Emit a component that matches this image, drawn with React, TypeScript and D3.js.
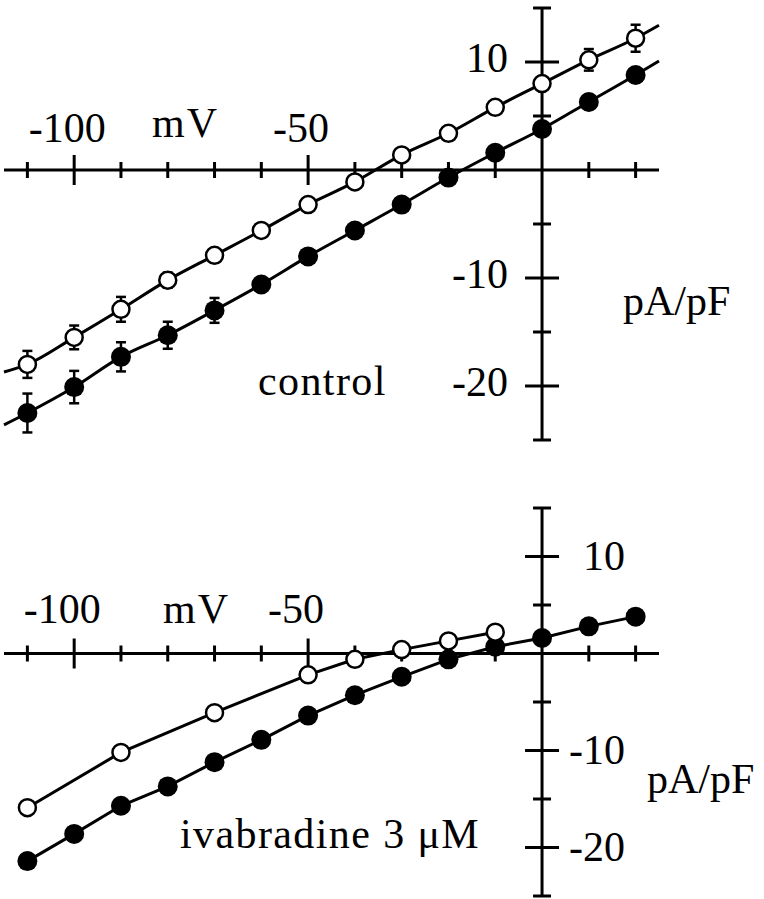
import React, { useRef, useEffect } from "react";
import * as d3 from "d3";

// membrane potential steps (mV)
const voltages = [-110, -100, -90, -80, -70, -60, -50, -40, -30, -20, -10, 0, 10, 20];

// control panel (pA/pF)
const controlOpen = [-18.0, -15.5, -12.9, -10.2, -7.9, -5.6, -3.2, -1.1, 1.4, 3.4, 5.8, 8.0, 10.2, 12.2];
const controlOpenErr = [1.25, 1.1, 1.15, 0.7, 0.5, 0.5, 0.5, 0.5, 0.5, 0.5, 0.5, 0.6, 1.0, 1.25];
const controlFilled = [-22.5, -20.1, -17.3, -15.3, -13.0, -10.6, -8.0, -5.6, -3.2, -0.7, 1.6, 3.8, 6.3, 8.8];
const controlFilledErr = [1.8, 1.5, 1.35, 1.25, 1.15, 0.6, 0.5, 0.5, 0.5, 0.5, 0.5, 0.5, 0.5, 0.5];
// ends of the fitted curves (mV, pA/pF)
const controlOpenFitEnds = [[-115, -18.7], [25, 13.4]];
const controlFilledFitEnds = [[-115, -23.6], [25, 10.1]];

// ivabradine panel
const ivaOpenVoltages = [-110, -90, -70, -50, -40, -30, -20, -10];
const ivaOpen = [-15.9, -10.2, -6.1, -2.2, -0.6, 0.4, 1.3, 2.2];
const ivaFilled = [-21.4, -18.6, -15.7, -13.7, -11.2, -8.9, -6.4, -4.3, -2.4, -0.6, 0.7, 1.6, 2.8, 3.8];

const xTicks = [-110, -100, -90, -80, -70, -60, -50, -40, -30, -20, -10, 10, 20];
const xMajor = [-100, -50];
const xLabels = ["-100", "-50"];
const yTicks = [-25, -20, -15, -10, -5, 5, 10, 15];
const yLabels = [10, -10, -20];

const FONT = "'Liberation Serif', 'Times New Roman', serif";

const App = () => {
  const svgRef = useRef(null);

  useEffect(() => {
    const svg = d3.select(svgRef.current);
    svg.selectAll("*").remove();

    const x = d3.scaleLinear().domain([-115, 25]).range([4, 659]);
    const yTop = d3.scaleLinear().domain([-25, 15]).range([440, 8]);
    const yBot = d3.scaleLinear().domain([-25, 15]).range([896, 508]);

    const drawAxes = (g, y, opts) => {
      const x0 = x(0);
      const y0 = y(0);
      // x axis
      g.append("line")
        .attr("x1", x(-115)).attr("x2", x(25))
        .attr("y1", y0).attr("y2", y0)
        .attr("stroke", "#000").attr("stroke-width", 3);
      g.selectAll(".xt")
        .data(xTicks)
        .join("line")
        .attr("x1", (d) => x(d)).attr("x2", (d) => x(d))
        .attr("y1", (d) => y0 - (xMajor.includes(d) ? 15 : 8))
        .attr("y2", (d) => y0 + (xMajor.includes(d) ? 15 : 8))
        .attr("stroke", "#000").attr("stroke-width", 3);
      // y axis
      g.append("line")
        .attr("x1", x0).attr("x2", x0)
        .attr("y1", y(15)).attr("y2", y(-25))
        .attr("stroke", "#000").attr("stroke-width", 3);
      g.selectAll(".yt")
        .data(yTicks)
        .join("line")
        .attr("x1", (d) => x0 - (yLabels.includes(d) ? 17 : 9))
        .attr("x2", (d) => x0 + (yLabels.includes(d) ? 17 : 9))
        .attr("y1", (d) => y(d)).attr("y2", (d) => y(d))
        .attr("stroke", "#000").attr("stroke-width", 3);

      const text = (sel) =>
        sel.attr("font-family", FONT).attr("font-size", 42).attr("fill", "#000");

      g.selectAll(".xl")
        .data(xMajor)
        .join("text")
        .attr("x", (d) => x(d) + opts.xLabelDx)
        .attr("y", y0 + opts.xLabelDy)
        .attr("text-anchor", "middle")
        .text((d, i) => xLabels[i])
        .call(text);

      g.selectAll(".yl")
        .data(yLabels)
        .join("text")
        .attr("x", x0 + opts.yLabelDx)
        .attr("y", (d) => y(d) + opts.yLabelDy)
        .attr("text-anchor", "end")
        .text((d) => String(d))
        .call(text);

      g.append("text")
        .attr("x", opts.mV[0]).attr("y", opts.mV[1])
        .attr("letter-spacing", 2)
        .text("mV").call(text);
      g.append("text")
        .attr("x", opts.unit[0]).attr("y", opts.unit[1])
        .text("pA/pF").call(text);
      g.append("text")
        .attr("x", opts.title[0]).attr("y", opts.title[1])
        .attr("letter-spacing", 1.4)
        .text(opts.titleText).call(text);
    };

    const drawSeries = (g, y, xs, ys, errs, open, curve, ends) => {
      const pts = xs.map((v, i) => [v, ys[i]]);
      const linePts = ends ? [ends[0], ...pts, ends[1]] : pts;
      const lineGen = d3.line()
        .x((d) => x(d[0]))
        .y((d) => y(d[1]))
        .curve(curve);
      g.append("path")
        .datum(linePts)
        .attr("d", lineGen)
        .attr("fill", "none")
        .attr("stroke", "#000")
        .attr("stroke-width", 3);

      if (errs) {
        const eb = g.selectAll(null)
          .data(pts.map((p, i) => [p[0], p[1], errs[i]]))
          .join("g");
        eb.append("line")
          .attr("x1", (d) => x(d[0])).attr("x2", (d) => x(d[0]))
          .attr("y1", (d) => y(d[1] - d[2])).attr("y2", (d) => y(d[1] + d[2]))
          .attr("stroke", "#000").attr("stroke-width", 2.5);
        [-1, 1].forEach((s) => {
          eb.append("line")
            .attr("x1", (d) => x(d[0]) - 5).attr("x2", (d) => x(d[0]) + 5)
            .attr("y1", (d) => y(d[1] + s * d[2])).attr("y2", (d) => y(d[1] + s * d[2]))
            .attr("stroke", "#000").attr("stroke-width", 2.5);
        });
      }

      g.selectAll(null)
        .data(pts)
        .join("circle")
        .attr("cx", (d) => x(d[0]))
        .attr("cy", (d) => y(d[1]))
        .attr("r", open ? 8.5 : 10)
        .attr("fill", open ? "#fff" : "#000")
        .attr("stroke", "#000")
        .attr("stroke-width", open ? 2.5 : 0);
    };

    const top = svg.append("g");
    drawAxes(top, yTop, {
      xLabelDx: -7, xLabelDy: -28, yLabelDx: -34, yLabelDy: 10,
      mV: [152, 137], unit: [623, 315], title: [258, 395], titleText: "control",
    });
    drawSeries(top, yTop, voltages, controlFilled, controlFilledErr, false, d3.curveMonotoneX, controlFilledFitEnds);
    drawSeries(top, yTop, voltages, controlOpen, controlOpenErr, true, d3.curveMonotoneX, controlOpenFitEnds);

    const bot = svg.append("g");
    drawAxes(bot, yBot, {
      xLabelDx: -12, xLabelDy: -31, yLabelDx: 83, yLabelDy: 13,
      mV: [163, 623], unit: [647, 793], title: [180, 848], titleText: "ivabradine 3 μM",
    });
    drawSeries(bot, yBot, voltages, ivaFilled, null, false, d3.curveLinear, null);
    drawSeries(bot, yBot, ivaOpenVoltages, ivaOpen, null, true, d3.curveLinear, null);
  }, []);

  return (
    <svg
      ref={svgRef}
      width={764}
      height={899}
      style={{ position: "absolute", left: 0, top: 0, background: "#fff" }}
    />
  );
};

export default App;
